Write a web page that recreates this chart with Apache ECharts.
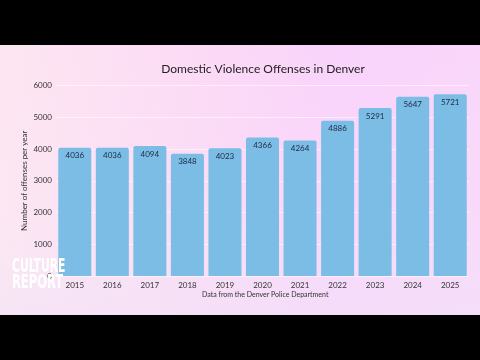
<!DOCTYPE html>
<html>
<head>
<meta charset="utf-8">
<script src="https://cdn.jsdelivr.net/npm/echarts@6/dist/echarts.min.js"></script>
<style>html,body{margin:0;padding:0;background:#000;}#c{width:480px;height:360px;}</style>
</head>
<body>
<div id="c"></div>
<script>
const years = ['2015','2016','2017','2018','2019','2020','2021','2022','2023','2024','2025'];
const offenses = [4036, 4036, 4094, 3848, 4023, 4366, 4264, 4886, 5291, 5647, 5721];
const yTicks = [0, 1000, 2000, 3000, 4000, 5000, 6000];
const titleText = 'Domestic Violence Offenses in Denver';
const captionText = 'Data from the Denver Police Department';
const yAxisName = 'Number of offenses per year';

const chart = echarts.init(document.getElementById('c'), null, {renderer: 'canvas'});
const FONT = 'Lato, "Noto Sans", sans-serif';
const LOGO_FONT = 'bold 20px "Liberation Sans Narrow", "DejaVu Sans Condensed", sans-serif';
chart.setOption({
  backgroundColor: '#000',
  animation: false,
  graphic: [
    {type: 'rect', z: -10, silent: true, shape: {x: 0, y: 45, width: 480, height: 270},
     style: {fill: new echarts.graphic.LinearGradient(0, 0, 1, 0, [
       {offset: 0, color: '#fde6f1'}, {offset: 0.45, color: '#fbd9f6'}, {offset: 0.7, color: '#f9d3fb'}, {offset: 1, color: '#f9d6fa'}])}},
    {type: 'rect', z: -9, silent: true, shape: {x: 0, y: 45, width: 480, height: 270},
     style: {fill: new echarts.graphic.LinearGradient(0, 0, 0, 1, [
       {offset: 0, color: 'rgba(255,240,250,0)'}, {offset: 0.6, color: 'rgba(245,235,250,0.15)'}, {offset: 1, color: 'rgba(240,228,248,0.55)'}])}},
    {type: 'text', z: 10, style: {x: 263, y: 69, text: titleText, textAlign: 'center', textVerticalAlign: 'middle',
      font: '12px ' + FONT, fill: '#222'}},
    {type: 'text', z: 10, style: {x: 202, y: 295, text: captionText, textAlign: 'left', textVerticalAlign: 'middle',
      font: '7px ' + FONT, fill: '#333'}},
    {type: 'text', z: 20, x: 12, y: 267, scaleX: 0.6, style: {x: 0, y: 0, text: 'CULTURE', textAlign: 'left', textVerticalAlign: 'middle',
      font: LOGO_FONT, fill: '#ffffff'}},
    {type: 'text', z: 20, x: 12, y: 283, scaleX: 0.64, style: {x: 0, y: 0, text: 'REPORT', textAlign: 'left', textVerticalAlign: 'middle',
      font: LOGO_FONT, fill: '#ffffff'}}
  ],
  grid: {left: 56, right: 11, top: 85.5, bottom: 84, containLabel: false},
  xAxis: {
    type: 'category', data: years,
    axisLine: {show: false}, axisTick: {show: false},
    axisLabel: {fontSize: 8, color: '#333', margin: 5, fontFamily: FONT}
  },
  yAxis: {
    type: 'value', min: yTicks[0], max: yTicks[yTicks.length - 1], interval: 1000,
    name: yAxisName, nameLocation: 'middle', nameRotate: 90, nameGap: 28, nameMoveOverlap: false,
    nameTextStyle: {fontSize: 8, color: '#333', fontFamily: FONT},
    axisLine: {show: false}, axisTick: {show: false},
    axisLabel: {fontSize: 8, color: '#333', margin: 4, fontFamily: FONT, formatter: v => String(v)},
    splitLine: {lineStyle: {color: 'rgba(255,255,255,0.55)', width: 1}}
  },
  series: [{
    type: 'bar', data: offenses, barCategoryGap: '12%',
    itemStyle: {color: '#7cbde6', borderRadius: [2, 2, 0, 0]},
    label: {show: true, position: 'insideTop', distance: 4, fontSize: 8, color: '#1a2840', fontFamily: FONT}
  }]
});
</script>
</body>
</html>
